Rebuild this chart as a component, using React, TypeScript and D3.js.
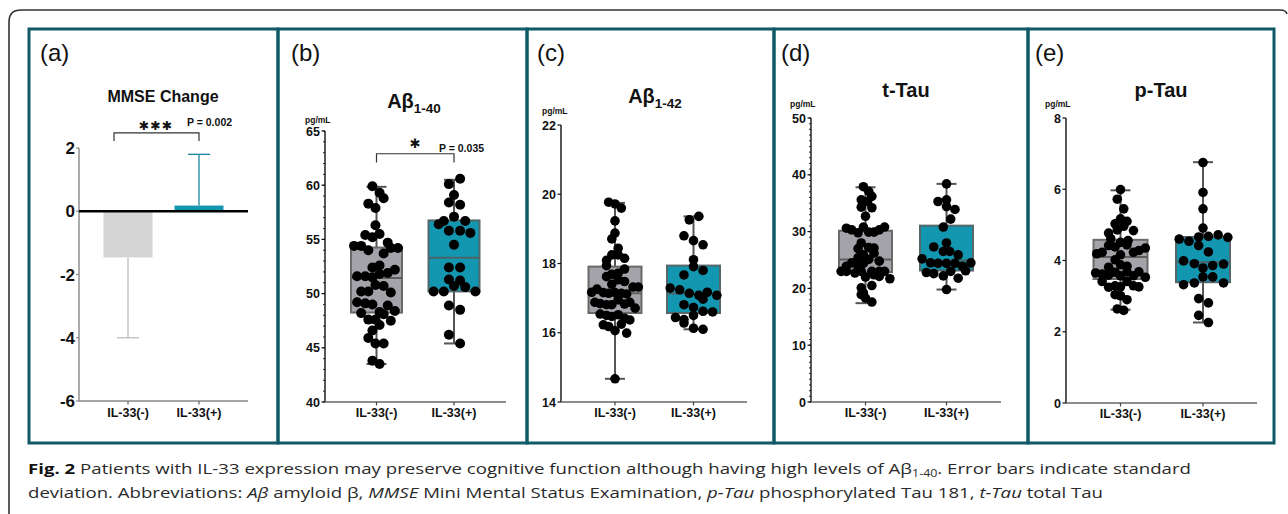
import React from 'react';
import * as d3 from 'd3';

const groups = ['IL-33(-)', 'IL-33(+)'];

// (a) MMSE change: mean and SD
const mmseMean = [-1.46, 0.18];
const mmseSD = [2.54, 1.62];
const mmseTicks = [-6, -4, -2, 0, 2];

// (b) Aβ1-40
const ab40Neg = [59.9, 59.3, 58.8, 58.3, 57.9, 56.3, 55.4, 55.5, 55.2, 54.4, 54.4, 54.0, 54.7, 54.2, 54.2, 53.7, 52.6, 52.4, 51.6, 51.6, 51.5, 51.8, 51.9, 52.2, 50.8, 50.7, 50.2, 50.2, 50.1, 49.2, 49.1, 49.0, 48.9, 48.3, 48.2, 48.1, 48.4, 47.6, 47.6, 47.5, 47.1, 46.6, 45.9, 45.4, 45.4, 43.8, 43.5];
const ab40NegJit = [-4, 3, 7, -8, -1, -1, -11, 3, -4, -22, -15, -8, 11, 14, 21, 7, 3, -4, -19, -11, -4, 3, 11, 18, -1, 7, -15, -8, 14, -19, -11, -4, 11, 3, -15, 7, 18, -8, -1, 14, 3, -4, -8, -1, 7, -4, 3];
const ab40Pos = [60.6, 60.1, 59.1, 58.4, 58.2, 57.1, 56.7, 56.4, 56.7, 55.8, 55.8, 55.6, 54.5, 52.4, 52.4, 51.3, 51.2, 50.7, 50.6, 50.2, 50.2, 50.2, 48.9, 48.5, 46.2, 45.4];
const ab40PosJit = [6, -5, 0, -5, 6, 0, -10, -15, 11, -5, 6, 16, 0, -5, 6, -5, 6, 0, 11, -20, -10, 21, -5, 6, -5, 6];
const ab40BoxNeg = [43.5, 48.25, 51.45, 54.25, 59.85];
const ab40BoxPos = [45.4, 50.2, 53.3, 56.75, 60.5];
const ab40Ticks = [40, 45, 50, 55, 60, 65];

// (c) Aβ1-42
const ab42Neg = [19.77, 19.72, 19.6, 19.23, 18.88, 18.71, 18.44, 18.25, 18.25, 18.15, 18.09, 17.94, 17.84, 17.72, 17.69, 17.62, 17.48, 17.4, 17.53, 17.26, 17.17, 17.16, 17.32, 17.32, 17.14, 17.16, 17.14, 17.12, 16.95, 16.88, 16.84, 16.81, 16.81, 16.83, 16.88, 16.71, 16.54, 16.5, 16.47, 16.52, 16.42, 16.37, 16.23, 16.18, 16.25, 16.06, 15.99, 14.67];
const ab42NegJit = [-6, 0, 6, 0, 0, -3, 3, -3, 3, 9, -8, -8, 9, 3, -3, -8, 9, -3, 3, -17, -22, -11, 17, 22, -6, 0, 6, 11, 3, -19, -14, -8, -3, 9, 14, 19, -14, -8, -3, 3, 9, 14, -11, -6, 6, 0, 11, 0];
const ab42Pos = [19.36, 19.26, 18.8, 18.66, 18.54, 18.11, 17.91, 17.8, 17.67, 17.29, 17.24, 17.14, 17.08, 17.17, 17.08, 16.97, 16.81, 16.73, 16.62, 16.6, 16.44, 16.38, 16.28, 16.5, 16.13, 16.1];
const ab42PosJit = [5, -4, -9, 0, 9, 0, 0, 9, -9, -22, -13, -4, 5, 13, 22, 9, -9, 0, 9, 18, -17, -9, -9, 0, 0, 9];
const ab42BoxNeg = [14.67, 16.57, 17.14, 17.91, 19.75];
const ab42BoxPos = [16.1, 16.57, 17.13, 17.94, 19.36];
const ab42Ticks = [14, 16, 18, 20, 22];

// (d) t-Tau
const tTauNeg = [37.9, 37.1, 36.2, 35.6, 35.3, 34.3, 34.2, 32.7, 30.6, 30.3, 30.8, 30.8, 30.3, 29.8, 29.9, 29.9, 28.0, 27.2, 27.0, 27.1, 25.9, 26.2, 25.4, 25.1, 24.5, 24.4, 24.8, 23.9, 23.9, 23.0, 23.0, 22.7, 23.0, 23.0, 23.0, 23.0, 22.4, 22.0, 22.1, 21.7, 20.5, 20.1, 19.2, 18.9, 18.3, 17.6];
const tTauNegJit = [-2, 3, 6, -4, 2, -4, 6, 0, -18, -13, -2, 18, 13, -7, 3, 8, -4, 3, -7, 8, -2, 8, -7, 3, -13, -2, 13, -18, -7, -23, -18, -10, -4, 6, 13, 18, 8, 0, 13, 23, 6, -4, -2, -4, 0, 6];
const tTauPos = [38.4, 35.3, 35.6, 34.4, 33.9, 32.2, 30.8, 28.0, 27.3, 26.5, 26.5, 25.9, 25.2, 24.5, 24.4, 24.4, 24.4, 23.9, 24.5, 22.8, 22.6, 22.2, 23.0, 23.1, 21.8, 19.8];
const tTauPosJit = [0, -8, 0, 0, 8, 4, -3, 0, -12, -3, 3, 11, -23, -15, -8, 0, 8, 15, 23, -19, -12, -3, 4, 18, 11, 0];
const tTauBoxNeg = [17.4, 22.85, 25.1, 30.15, 37.8];
const tTauBoxPos = [19.8, 23.15, 24.9, 31.05, 38.4];
const tTauTicks = [0, 10, 20, 30, 40, 50];

// (e) p-Tau
const pTauNeg = [5.99, 5.72, 5.45, 5.17, 5.1, 5.03, 4.96, 4.86, 4.84, 4.77, 4.61, 4.56, 4.51, 4.44, 4.42, 4.38, 4.35, 4.28, 4.19, 4.23, 4.23, 4.16, 4.02, 3.88, 3.84, 3.81, 3.67, 3.65, 3.62, 3.59, 3.57, 3.68, 3.68, 3.57, 3.53, 3.41, 3.41, 3.29, 3.25, 3.26, 3.29, 3.26, 3.04, 3.01, 2.9, 2.64, 2.6];
const pTauNegJit = [0, -3, 3, 0, 6, -5, 3, -3, 12, -11, -9, 7, 0, 6, -11, -5, 23, 17, -22, -17, 12, 0, -5, 0, 6, -11, -5, -23, -17, -11, 0, 6, 17, 12, 23, -17, 6, -5, -11, 0, 12, 17, -5, 0, 6, -3, 3];
const pTauPos = [6.75, 5.91, 5.45, 4.91, 4.6, 4.54, 4.66, 4.68, 4.72, 4.65, 4.42, 4.24, 3.99, 3.91, 3.79, 3.86, 3.9, 3.54, 3.54, 3.32, 3.37, 3.37, 2.93, 2.81, 2.46, 2.26];
const pTauPosJit = [0, 0, 0, 0, -22, -13, -4, 5, 14, 23, -4, 5, -18, -8, 0, 9, 19, 0, 9, -18, -8, 19, -4, 5, -4, 5];
const pTauBoxNeg = [2.62, 3.48, 4.1, 4.58, 5.97];
const pTauBoxPos = [2.26, 3.39, 3.95, 4.66, 6.76];
const pTauTicks = [0, 2, 4, 6, 8];

const FONT = "'Liberation Sans', Arial, Helvetica, sans-serif";
const STAR_FONT = "'DejaVu Sans', sans-serif";
const PANEL_STROKE = '#0f5a66';
const NEG_FILL = '#a3a3a9';
const POS_FILL = '#1396af';

type BoxPanelProps = {
  label: string;
  title: string;
  sub?: string;
  titleX: number;
  titleY: number;
  unitX: number;
  unitY: number;
  axisX: number;
  axisEnd: number;
  yTop: number;
  yBottom: number;
  ticks: number[];
  minorStep?: number;
  centers: [number, number];
  boxW: number;
  neg: number[];
  negJit: number[];
  pos: number[];
  posJit: number[];
  boxNeg: number[];
  boxPos: number[];
  labelX: number;
  sig?: { star: string; p: string };
  r: number;
};

function BoxPanel(p: BoxPanelProps) {
  const y = d3.scaleLinear().domain([p.ticks[0], p.ticks[p.ticks.length - 1]]).range([p.yBottom, p.yTop]);
  const x = d3.scalePoint<string>().domain(groups).range(p.centers);
  const jit = d3.scaleLinear().domain([-25, 25]).range([-p.boxW / 2, p.boxW / 2]);
  const minor = p.minorStep ? d3.range(p.ticks[0], p.ticks[p.ticks.length - 1] + 1e-9, p.minorStep) : [];
  const sets = [
    { g: groups[0], vals: p.neg, jit: p.negJit, box: p.boxNeg, fill: NEG_FILL, stroke: '#6a6a6a', med: '#5f5f5f' },
    { g: groups[1], vals: p.pos, jit: p.posJit, box: p.boxPos, fill: POS_FILL, stroke: '#55676b', med: '#4b6468' },
  ];
  return (
    <g fontFamily={FONT}>
      <text x={p.labelX} y={61} fontSize={24} fill="#111">{p.label}</text>
      <text x={p.titleX} y={p.titleY} fontSize={20} fontWeight="bold" textAnchor="middle" fill="#111">
        {p.title}
        {p.sub ? <tspan fontSize={13.5} dy={5}>{p.sub}</tspan> : null}
      </text>
      <text x={p.unitX} y={p.unitY} fontSize={8.5} fontWeight="bold" fill="#111">pg/mL</text>
      <line x1={p.axisX} x2={p.axisX} y1={y.range()[1]} y2={y.range()[0]} stroke="#111" strokeWidth={1.4} />
      {minor.map((m, i) => (
        <line key={'m' + i} x1={p.axisX - 2} x2={p.axisX} y1={y(m)} y2={y(m)} stroke="#111" strokeWidth={0.9} />
      ))}
      {p.ticks.map((t) => (
        <g key={t}>
          <line x1={p.axisX - 3.5} x2={p.axisX} y1={y(t)} y2={y(t)} stroke="#111" strokeWidth={1.2} />
          <text x={p.axisX - 5} y={y(t)} dy="0.36em" textAnchor="end" fontSize={12.5} fontWeight="bold" fill="#111">{t}</text>
        </g>
      ))}
      <line x1={p.axisX} x2={p.axisEnd} y1={y.range()[0]} y2={y.range()[0]} stroke="#666" strokeWidth={1.6} />
      {groups.map((g) => (
        <g key={g}>
          <line x1={x(g)} x2={x(g)} y1={y.range()[0]} y2={y.range()[0] + 3.5} stroke="#444" strokeWidth={1.2} />
          <text x={x(g)} y={y.range()[0] + 15} textAnchor="middle" fontSize={12.5} fontWeight="bold" fill="#111">{g}</text>
        </g>
      ))}
      {sets.map((s) => {
        const cx = x(s.g) as number;
        const [mn, q1, md, q3, mx] = s.box;
        return (
          <g key={s.g}>
            <line x1={cx} x2={cx} y1={y(mx)} y2={y(q3)} stroke="#555" strokeWidth={2} />
            <line x1={cx} x2={cx} y1={y(q1)} y2={y(mn)} stroke="#555" strokeWidth={2} />
            <line x1={cx - 10} x2={cx + 10} y1={y(mx)} y2={y(mx)} stroke="#555" strokeWidth={2} />
            <line x1={cx - 10} x2={cx + 10} y1={y(mn)} y2={y(mn)} stroke="#555" strokeWidth={2} />
            <rect x={cx - p.boxW / 2} y={y(q3)} width={p.boxW} height={y(q1) - y(q3)} fill={s.fill} stroke={s.stroke} strokeWidth={2} />
            <line x1={cx - p.boxW / 2} x2={cx + p.boxW / 2} y1={y(md)} y2={y(md)} stroke={s.med} strokeWidth={2} />
            {s.vals.map((v, i) => (
              <circle key={i} cx={cx + jit(s.jit[i])} cy={y(v)} r={p.r} fill="#000" />
            ))}
          </g>
        );
      })}
      {p.sig ? (
        <g>
          <path
            d={`M${x(groups[0])},${y(62.1)}V${y(62.9)}H${x(groups[1])}V${y(62.1)}`}
            fill="none"
            stroke="#333"
            strokeWidth={1.2}
          />
          <text x={((x(groups[0]) as number) + (x(groups[1]) as number)) / 2} y={y(63.9)} textAnchor="middle" fontFamily={STAR_FONT} fontSize={13} fill="#111" dy="0.36em">{p.sig.star}</text>
          <text x={(x(groups[1]) as number) - 15} y={y(63.4)} fontSize={10.5} fontWeight="bold" fill="#111" dy="0.35em">{p.sig.p}</text>
        </g>
      ) : null}
    </g>
  );
}

function MmsePanel() {
  const y = d3.scaleLinear().domain([-6, 2]).range([401, 148]);
  const x = d3.scalePoint<string>().domain(groups).range([128, 199]);
  const axisX = 79;
  const axisEnd = 248;
  const barW = 49;
  const fills = ['#d4d4d4', '#1596b0'];
  const errs = ['#bdbdbd', '#1a87a0'];
  return (
    <g fontFamily={FONT}>
      <text x={40} y={61} fontSize={24} fill="#111">(a)</text>
      <text x={163} y={102} fontSize={16} fontWeight="bold" textAnchor="middle" fill="#111">MMSE Change</text>
      <line x1={axisX} x2={axisX} y1={y(2)} y2={y(-6)} stroke="#888" strokeWidth={1.4} />
      {mmseTicks.map((t) => (
        <g key={t}>
          <line x1={axisX - 3} x2={axisX} y1={y(t)} y2={y(t)} stroke="#888" strokeWidth={1.2} />
          <text x={axisX - 4} y={y(t)} dy="0.36em" textAnchor="end" fontSize={17} fontWeight="bold" fill="#111">{t}</text>
        </g>
      ))}
      <line x1={axisX} x2={axisEnd} y1={y(-6)} y2={y(-6)} stroke="#888" strokeWidth={1.5} />
      {groups.map((g, i) => {
        const cx = x(g) as number;
        const m = mmseMean[i];
        const e = m < 0 ? m - mmseSD[i] : m + mmseSD[i];
        return (
          <g key={g}>
            <line x1={cx} x2={cx} y1={y(-6)} y2={y(-6) + 3.5} stroke="#666" strokeWidth={1.2} />
            <text x={cx} y={y(-6) + 16} textAnchor="middle" fontSize={12.5} fontWeight="bold" fill="#111">{g}</text>
            <line x1={cx} x2={cx} y1={y(m)} y2={y(e)} stroke={errs[i]} strokeWidth={1.3} />
            <line x1={cx - 11} x2={cx + 11} y1={y(e)} y2={y(e)} stroke={errs[i]} strokeWidth={1.3} />
            <rect x={cx - barW / 2} y={Math.min(y(m), y(0))} width={barW} height={Math.abs(y(m) - y(0))} fill={fills[i]} />
          </g>
        );
      })}
      <line x1={axisX} x2={axisEnd} y1={y(0)} y2={y(0)} stroke="#000" strokeWidth={2.4} />
      <path d={`M${(x(groups[0]) as number) - 14},${y(2.22)}V${y(2.48)}H${x(groups[1])}V${y(2.22)}`} fill="none" stroke="#333" strokeWidth={1.2} />
      <text x={156} y={y(2.72)} dy="0.36em" textAnchor="middle" fontFamily={STAR_FONT} fontSize={12.5} fill="#111" letterSpacing={1}>✱✱✱</text>
      <text x={187} y={y(2.8)} dy="0.35em" fontSize={10.5} fontWeight="bold" fill="#111">P = 0.002</text>
    </g>
  );
}

export default function App() {
  const panels = [
    [29, 278],
    [278, 527],
    [527, 774],
    [774, 1028],
    [1028, 1274],
  ];
  return (
    <svg width={1288} height={514} style={{ position: 'absolute', left: 0, top: 0, background: '#fff' }}>
      <rect x={0} y={0} width={1288} height={514} fill="#fff" />
      <path d="M9,514V22Q9,10 21,10H1280Q1286,10 1287,14" fill="none" stroke="#333" strokeWidth={1.6} />
      {panels.map(([a, b], i) => (
        <rect key={i} x={a} y={29} width={b - a} height={414} fill="none" stroke={PANEL_STROKE} strokeWidth={3} />
      ))}
      <MmsePanel />
      <BoxPanel
        label="(b)" title="Aβ" sub="1-40" titleX={414} titleY={108} unitX={305} unitY={123}
        axisX={325} axisEnd={506} yTop={131} yBottom={402} ticks={ab40Ticks} minorStep={1}
        centers={[376.5, 454]} boxW={51} neg={ab40Neg} negJit={ab40NegJit} pos={ab40Pos} posJit={ab40PosJit}
        boxNeg={ab40BoxNeg} boxPos={ab40BoxPos} labelX={291} sig={{ star: '✱', p: 'P = 0.035' }} r={5}
      />
      <BoxPanel
        label="(c)" title="Aβ" sub="1-42" titleX={655} titleY={103} unitX={542} unitY={114}
        axisX={561} axisEnd={747} yTop={125} yBottom={402} ticks={ab42Ticks}
        centers={[615, 693.5]} boxW={53} neg={ab42Neg} negJit={ab42NegJit} pos={ab42Pos} posJit={ab42PosJit}
        boxNeg={ab42BoxNeg} boxPos={ab42BoxPos} labelX={537} r={4.8}
      />
      <BoxPanel
        label="(d)" title="t-Tau" titleX={906} titleY={97} unitX={790} unitY={107}
        axisX={811} axisEnd={1001} yTop={118} yBottom={402} ticks={tTauTicks} minorStep={1}
        centers={[865.5, 946.5]} boxW={53} neg={tTauNeg} negJit={tTauNegJit} pos={tTauPos} posJit={tTauPosJit}
        boxNeg={tTauBoxNeg} boxPos={tTauBoxPos} labelX={781} r={4.8}
      />
      <BoxPanel
        label="(e)" title="p-Tau" titleX={1161} titleY={97} unitX={1045} unitY={107}
        axisX={1066} axisEnd={1257} yTop={118} yBottom={403} ticks={pTauTicks}
        centers={[1120.5, 1203]} boxW={54} neg={pTauNeg} negJit={pTauNegJit} pos={pTauPos} posJit={pTauPosJit}
        boxNeg={pTauBoxNeg} boxPos={pTauBoxPos} labelX={1035} r={4.8}
      />
      <g fontFamily="'Open Sans', 'Noto Sans', sans-serif" fontSize={15} fill="#2a2a2a">
        <text x={28} y={474} textLength={1163} lengthAdjust="spacingAndGlyphs">
          <tspan fontWeight="bold" fill="#111">Fig. 2</tspan>
          <tspan> Patients with IL-33 expression may preserve cognitive function although having high levels of Aβ</tspan>
          <tspan fontSize={10} dy={3}>1-40</tspan>
          <tspan dy={-3}>. Error bars indicate standard</tspan>
        </text>
        <text x={28} y={498} textLength={1075} lengthAdjust="spacingAndGlyphs">
          <tspan>deviation. Abbreviations: </tspan>
          <tspan fontStyle="italic">Aβ</tspan>
          <tspan> amyloid β, </tspan>
          <tspan fontStyle="italic">MMSE</tspan>
          <tspan> Mini Mental Status Examination, </tspan>
          <tspan fontStyle="italic">p-Tau</tspan>
          <tspan> phosphorylated Tau 181, </tspan>
          <tspan fontStyle="italic">t-Tau</tspan>
          <tspan> total Tau</tspan>
        </text>
      </g>
    </svg>
  );
}
